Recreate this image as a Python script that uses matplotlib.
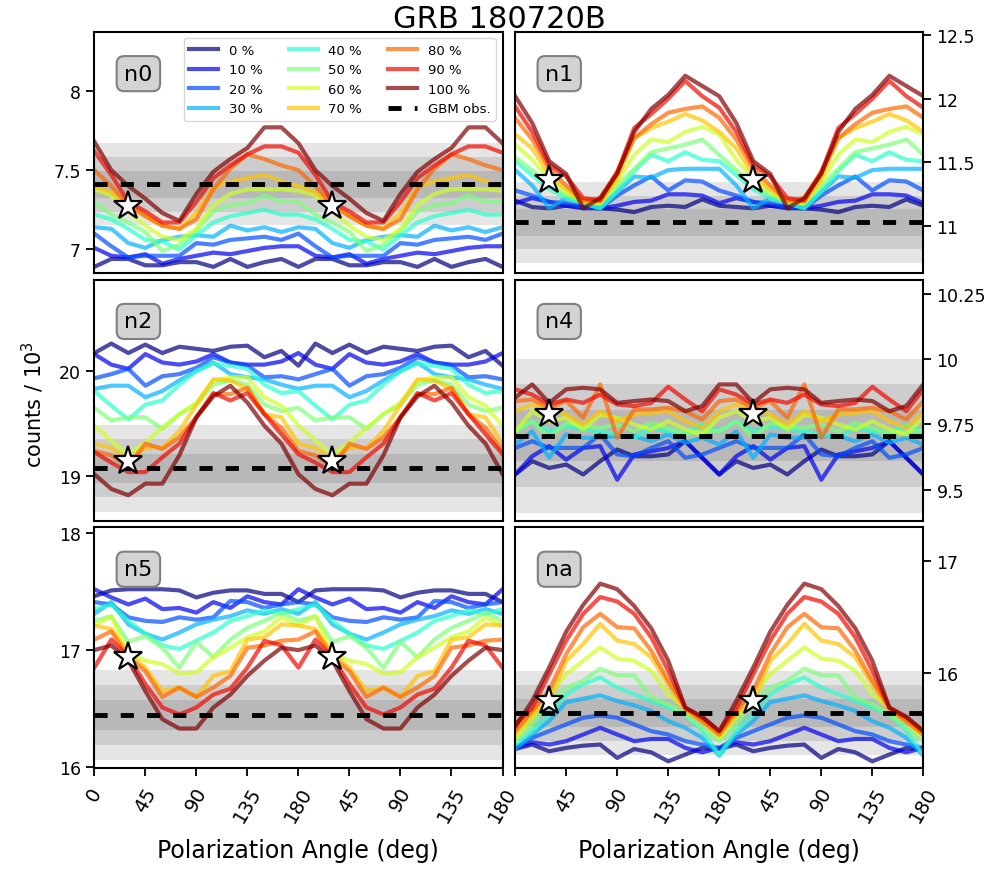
import matplotlib
matplotlib.use("Agg")
import matplotlib.pyplot as plt
import numpy as np
from matplotlib.ticker import FuncFormatter

# polarization angles of one half period (deg); the curves repeat every 180 deg
ANGLES = [0, 15, 30, 45, 60, 75, 90, 105, 120, 135, 150, 165, 180]
LEVELS = [0, 10, 20, 30, 40, 50, 60, 70, 80, 90, 100]
DETECTORS = ["n0", "n1", "n2", "n4", "n5", "na"]

# observed GBM counts (10^3) and 1-sigma widths of the grey bands
GBM_OBS = [7.411, 11.029, 19.076, 9.707, 16.446, 15.639]
GBM_SIG = [0.086, 0.105, 0.138, 0.0985, 0.128, 0.125]

STAR_ANGLES = [30, 210]
STAR_COUNTS = [7.274, 11.36, 19.148, 9.79, 16.94, 15.75]

YLIMS = [(6.853, 8.373), (10.634, 12.526), (18.58, 20.868),
         (9.381, 10.307), (15.99, 18.049), (15.147, 17.304)]
YTICKS = [[7, 7.5, 8], [11, 11.5, 12, 12.5], [19, 20],
          [9.5, 9.75, 10, 10.25], [16, 17, 18], [16, 17]]

# simulated counts (10^3), one row per polarization level 0..100 %
N0 = [
    [6.89, 6.94, 6.94, 6.90, 6.90, 6.92, 6.92, 6.89, 6.94, 6.89, 6.92, 6.94, 6.89],
    [7.01, 6.96, 6.95, 6.97, 6.91, 6.94, 6.96, 6.98, 6.97, 6.99, 7.01, 7.02, 7.02],
    [7.10, 7.02, 6.95, 6.96, 6.96, 6.96, 7.04, 7.03, 7.06, 7.07, 7.08, 7.06, 7.10],
    [7.14, 7.13, 7.04, 7.01, 7.06, 7.08, 7.09, 7.08, 7.15, 7.12, 7.14, 7.11, 7.14],
    [7.22, 7.19, 7.13, 7.06, 7.05, 7.00, 7.09, 7.17, 7.21, 7.23, 7.25, 7.22, 7.22],
    [7.30, 7.22, 7.17, 7.11, 6.99, 7.03, 7.12, 7.24, 7.28, 7.29, 7.34, 7.30, 7.30],
    [7.38, 7.34, 7.24, 7.15, 7.08, 7.06, 7.13, 7.28, 7.35, 7.38, 7.38, 7.38, 7.37],
    [7.40, 7.36, 7.28, 7.21, 7.15, 7.13, 7.23, 7.39, 7.43, 7.45, 7.47, 7.43, 7.40],
    [7.50, 7.40, 7.28, 7.21, 7.15, 7.13, 7.19, 7.38, 7.51, 7.60, 7.57, 7.53, 7.50],
    [7.62, 7.47, 7.30, 7.24, 7.17, 7.17, 7.30, 7.45, 7.53, 7.60, 7.65, 7.65, 7.61],
    [7.68, 7.50, 7.40, 7.32, 7.23, 7.18, 7.35, 7.49, 7.57, 7.64, 7.77, 7.77, 7.67],
]
N1 = [
    [11.20, 11.15, 11.14, 11.16, 11.14, 11.14, 11.13, 11.11, 11.15, 11.16, 11.15, 11.21, 11.16],
    [11.18, 11.22, 11.19, 11.16, 11.15, 11.14, 11.16, 11.19, 11.20, 11.25, 11.25, 11.24, 11.18],
    [11.28, 11.24, 11.19, 11.18, 11.15, 11.14, 11.24, 11.32, 11.39, 11.28, 11.36, 11.35, 11.28],
    [11.44, 11.32, 11.14, 11.22, 11.18, 11.14, 11.27, 11.39, 11.38, 11.44, 11.45, 11.45, 11.45],
    [11.51, 11.40, 11.29, 11.22, 11.18, 11.14, 11.27, 11.43, 11.56, 11.51, 11.58, 11.52, 11.51],
    [11.54, 11.44, 11.32, 11.24, 11.19, 11.18, 11.32, 11.45, 11.58, 11.61, 11.64, 11.68, 11.56],
    [11.64, 11.52, 11.37, 11.27, 11.19, 11.18, 11.35, 11.56, 11.68, 11.66, 11.74, 11.78, 11.72],
    [11.72, 11.61, 11.40, 11.29, 11.19, 11.19, 11.37, 11.69, 11.77, 11.82, 11.88, 11.83, 11.74],
    [11.85, 11.68, 11.45, 11.32, 11.20, 11.22, 11.43, 11.69, 11.80, 11.89, 11.92, 11.94, 11.85],
    [11.94, 11.74, 11.48, 11.39, 11.22, 11.20, 11.42, 11.77, 11.88, 12.00, 12.14, 12.02, 11.93],
    [12.02, 11.81, 11.51, 11.41, 11.14, 11.22, 11.41, 11.74, 11.92, 12.03, 12.18, 12.10, 12.02],
]
N2 = [
    [20.17, 20.26, 20.17, 20.25, 20.17, 20.23, 20.21, 20.19, 20.23, 20.24, 20.13, 20.19, 20.05],
    [20.16, 20.06, 20.02, 20.16, 20.08, 20.06, 20.09, 20.16, 20.08, 20.06, 20.06, 20.09, 20.17],
    [19.93, 19.97, 20.02, 19.86, 19.95, 19.97, 20.03, 20.13, 20.08, 20.05, 19.94, 19.95, 19.92],
    [19.83, 19.86, 19.86, 19.75, 19.81, 19.91, 20.00, 20.08, 19.97, 19.94, 19.92, 19.87, 19.83],
    [19.81, 19.67, 19.54, 19.68, 19.72, 19.87, 20.00, 20.07, 20.05, 20.02, 19.87, 19.79, 19.81],
    [19.65, 19.53, 19.56, 19.56, 19.45, 19.59, 19.68, 19.87, 19.91, 19.87, 19.68, 19.62, 19.65],
    [19.48, 19.34, 19.21, 19.32, 19.46, 19.59, 19.70, 19.91, 19.94, 19.94, 19.75, 19.67, 19.48],
    [19.31, 19.27, 19.16, 19.27, 19.27, 19.43, 19.68, 19.92, 19.91, 19.83, 19.59, 19.56, 19.31],
    [19.24, 19.20, 19.09, 19.31, 19.26, 19.37, 19.56, 19.78, 19.78, 19.84, 19.59, 19.46, 19.24],
    [19.23, 19.13, 19.04, 19.04, 19.18, 19.31, 19.56, 19.79, 19.72, 19.79, 19.59, 19.40, 19.21],
    [19.02, 18.88, 18.82, 18.93, 18.93, 19.20, 19.56, 19.76, 19.86, 19.70, 19.48, 19.31, 19.02],
]
N4 = [
    [9.558, 9.609, 9.583, 9.596, 9.558, 9.609, 9.654, 9.628, 9.628, 9.635, 9.686, 9.622, 9.558],
    [9.558, 9.628, 9.667, 9.615, 9.660, 9.667, 9.538, 9.635, 9.647, 9.660, 9.686, 9.622, 9.558],
    [9.660, 9.686, 9.660, 9.660, 9.660, 9.712, 9.635, 9.628, 9.660, 9.686, 9.622, 9.635, 9.660],
    [9.673, 9.724, 9.622, 9.712, 9.699, 9.699, 9.705, 9.705, 9.686, 9.712, 9.680, 9.699, 9.673],
    [9.724, 9.763, 9.724, 9.744, 9.731, 9.724, 9.712, 9.699, 9.737, 9.724, 9.718, 9.750, 9.724],
    [9.724, 9.763, 9.699, 9.756, 9.744, 9.737, 9.750, 9.724, 9.756, 9.737, 9.712, 9.724, 9.724],
    [9.724, 9.801, 9.763, 9.776, 9.731, 9.788, 9.776, 9.750, 9.731, 9.763, 9.731, 9.712, 9.776],
    [9.801, 9.827, 9.814, 9.788, 9.750, 9.801, 9.763, 9.788, 9.795, 9.801, 9.763, 9.737, 9.801],
    [9.840, 9.846, 9.814, 9.840, 9.776, 9.904, 9.699, 9.808, 9.808, 9.814, 9.801, 9.769, 9.840],
    [9.885, 9.865, 9.827, 9.846, 9.833, 9.865, 9.827, 9.821, 9.833, 9.895, 9.846, 9.801, 9.885],
    [9.853, 9.904, 9.833, 9.885, 9.891, 9.885, 9.833, 9.840, 9.846, 9.840, 9.801, 9.821, 9.904],
]
N5 = [
    [17.46, 17.51, 17.52, 17.52, 17.52, 17.51, 17.45, 17.49, 17.51, 17.51, 17.48, 17.48, 17.41],
    [17.52, 17.45, 17.39, 17.44, 17.35, 17.36, 17.32, 17.41, 17.36, 17.46, 17.41, 17.39, 17.52],
    [17.41, 17.39, 17.28, 17.25, 17.24, 17.28, 17.26, 17.28, 17.42, 17.41, 17.36, 17.39, 17.41],
    [17.31, 17.41, 17.22, 17.14, 17.09, 17.15, 17.22, 17.26, 17.29, 17.34, 17.31, 17.35, 17.31],
    [17.35, 17.39, 17.25, 17.14, 17.04, 17.01, 17.08, 17.15, 17.25, 17.29, 17.34, 17.31, 17.35],
    [17.25, 17.29, 17.07, 17.12, 17.02, 16.85, 17.07, 16.94, 17.09, 17.19, 17.25, 17.32, 17.25],
    [17.21, 17.29, 16.97, 16.91, 16.88, 16.80, 16.81, 16.94, 17.02, 17.11, 17.16, 17.28, 17.21],
    [17.21, 17.18, 16.97, 16.85, 16.65, 16.68, 16.60, 16.78, 16.82, 17.09, 17.11, 17.22, 17.21],
    [17.09, 17.16, 16.94, 16.82, 16.60, 16.68, 16.60, 16.68, 16.78, 17.02, 17.04, 17.08, 17.09],
    [16.85, 17.09, 16.94, 16.71, 16.51, 16.45, 16.51, 16.62, 16.67, 16.85, 17.08, 17.04, 16.85],
    [17.00, 17.04, 16.91, 16.65, 16.41, 16.33, 16.33, 16.51, 16.62, 16.78, 16.91, 17.02, 17.00],
]
NA = [
    [15.32, 15.36, 15.30, 15.33, 15.35, 15.36, 15.24, 15.32, 15.29, 15.21, 15.27, 15.33, 15.32],
    [15.33, 15.38, 15.36, 15.39, 15.45, 15.51, 15.45, 15.39, 15.41, 15.41, 15.33, 15.29, 15.33],
    [15.33, 15.42, 15.48, 15.54, 15.60, 15.62, 15.60, 15.54, 15.48, 15.45, 15.39, 15.36, 15.33],
    [15.32, 15.45, 15.57, 15.74, 15.77, 15.80, 15.75, 15.71, 15.66, 15.57, 15.51, 15.42, 15.26],
    [15.36, 15.48, 15.63, 15.81, 15.90, 15.96, 15.87, 15.81, 15.75, 15.69, 15.63, 15.48, 15.27],
    [15.39, 15.54, 15.75, 15.87, 15.93, 16.04, 15.98, 15.98, 15.78, 15.72, 15.63, 15.51, 15.39],
    [15.42, 15.60, 15.81, 15.99, 16.11, 16.23, 16.13, 16.11, 16.02, 15.81, 15.69, 15.57, 15.42],
    [15.45, 15.63, 15.75, 16.11, 16.26, 16.44, 16.29, 16.26, 16.14, 15.90, 15.66, 15.57, 15.44],
    [15.48, 15.66, 15.84, 16.17, 16.41, 16.53, 16.41, 16.40, 16.20, 15.93, 15.69, 15.57, 15.45],
    [15.54, 15.69, 15.99, 16.29, 16.53, 16.68, 16.64, 16.53, 16.32, 16.02, 15.69, 15.60, 15.48],
    [15.52, 15.75, 16.05, 16.37, 16.61, 16.80, 16.75, 16.60, 16.40, 16.11, 15.69, 15.61, 15.48],
]
SIMS = [N0, N1, N2, N4, N5, NA]

XTICKS = [0, 45, 90, 135, 180, 225, 270, 315, 360]
XLABELS_LEFT = ["0", "45", "90", "135", "180", "45", "90", "135", "180"]
XLABELS_RIGHT = ["", "45", "90", "135", "180", "45", "90", "135", "180"]


def two_periods(vals):
    # the simulation covers 0..180 deg; plot it twice to span 0..360
    x = ANGLES + [a + 180 for a in ANGLES[1:]]
    y = list(vals) + list(vals[1:])
    return x, y


fig, axes = plt.subplots(3, 2, figsize=(9.98, 8.7), dpi=100)
fig.subplots_adjust(left=0.0945, right=0.9252, top=0.9624, bottom=0.1157,
                    wspace=0.031, hspace=0.028)

colors = plt.cm.jet(np.linspace(0, 1, len(LEVELS)))
fmt = FuncFormatter(lambda v, p: f"{v:g}")

for i, ax in enumerate(axes.flat):
    obs, sig = GBM_OBS[i], GBM_SIG[i]
    for k in (3, 2, 1):
        ax.axhspan(obs - k * sig, obs + k * sig, color="k", alpha=0.1, lw=0)

    for lev, vals, c in zip(LEVELS, SIMS[i], colors):
        x, y = two_periods(vals)
        ax.plot(x, y, color=c, alpha=0.7, lw=3, label=f"{lev} %")

    ax.axhline(obs, color="k", lw=3.5, ls=(0, (2.7, 2.7)), label="GBM obs.")
    ax.plot(STAR_ANGLES, [STAR_COUNTS[i]] * len(STAR_ANGLES), ls="none",
            marker="*", ms=21, mfc="white", mec="k", mew=1.6, zorder=5)

    ax.text(0.108, 0.826, DETECTORS[i], transform=ax.transAxes, fontsize=16,
            ha="center", va="center",
            bbox=dict(boxstyle="round,pad=0.34", fc="#d3d3d3", ec="#808080", lw=1.5))

    ax.set_xlim(0, 360)
    ax.set_ylim(*YLIMS[i])
    ax.set_yticks(YTICKS[i])
    ax.yaxis.set_major_formatter(fmt)
    for s in ax.spines.values():
        s.set_linewidth(1.5)
    ax.tick_params(labelsize=12.5, length=6, width=1.3)

    row, col = divmod(i, 2)
    if col == 1:
        ax.yaxis.tick_right()
    if row < 2:
        ax.tick_params(axis="x", bottom=False, labelbottom=False)
    else:
        ax.set_xticks(XTICKS)
        ax.set_xticklabels(XLABELS_LEFT if col == 0 else XLABELS_RIGHT,
                           rotation=60, ha="center", fontsize=14)
        ax.tick_params(axis="x", pad=5)
        ax.set_xlabel("Polarization Angle (deg)", fontsize=17, labelpad=9)

axes[0, 0].legend(ncol=3, fontsize=9.5, handlelength=2.2, loc="upper right")

fig.text(0.5, 1 - 28 / 870, "GRB 180720B", fontsize=22, ha="center", va="baseline")
fig.text(0.033, 0.535, "counts / 10$^3$", fontsize=15, rotation=90,
         ha="center", va="center")

fig.savefig("out.png", dpi=100)
